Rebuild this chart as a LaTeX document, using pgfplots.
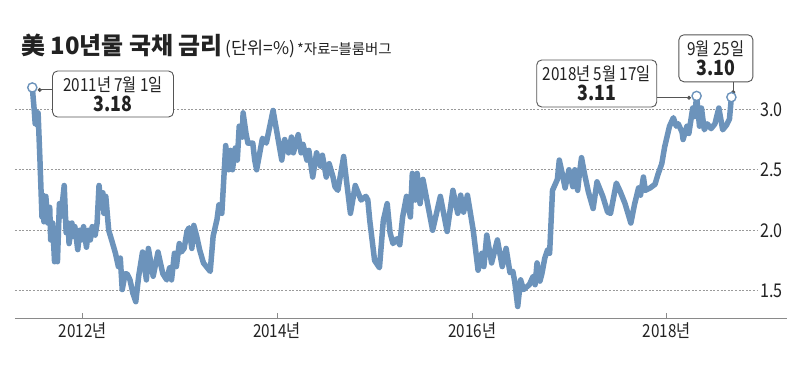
\documentclass[border=0pt]{standalone}
\usepackage{pgfplots}
\pgfplotsset{compat=1.18}
\usepackage{fontspec}
\setmainfont{Noto Sans CJK KR}
\newfontfamily\krn[FakeStretch=0.85]{Noto Sans CJK KR}
\usetikzlibrary{arrows.meta}
\definecolor{lineblue}{HTML}{6C93BB}
\definecolor{gridgray}{HTML}{9A9A9A}
\definecolor{axgray}{HTML}{8A8A8A}
\definecolor{boxgray}{HTML}{555555}
\definecolor{txt}{HTML}{222222}
\begin{document}
\begin{tikzpicture}
\begin{axis}[name=ax, scale only axis, width=772bp, height=288bp,
  xmin=2011.321, xmax=2019.305, ymin=1.275, ymax=3.655,
  axis x line=bottom, axis y line=right,
  x axis line style={-, draw=axgray, line width=0.8bp},
  y axis line style={draw=none},
  xtick={2012.02,2014.03,2016.05,2018.06},
  xticklabels={2012년,2014년,2016년,2018년},
  ytick={1.5,2,2.5,3}, yticklabels={1.5,2.0,2.5,3.0},
  ytick style={draw=none},
  xtick style={draw=axgray, line width=0.8bp},
  tick align=inside, major tick length=5bp,
  xticklabel style={font=\krn\fontsize{18}{18}\selectfont, text=txt, yshift=-1bp},
  yticklabel style={font=\krn\fontsize{19}{19}\selectfont, text=txt, anchor=east, xshift=-1bp},
  clip=false, grid=none]
\pgfplotsinvokeforeach{1.5,2,2.5,3}{
  \draw[gridgray, line width=0.7bp, dash pattern=on 2bp off 1.6bp] (axis cs:2011.321,#1) -- (axis cs:2019.0,#1);
}
\addplot[line width=5.5bp, color=lineblue, line join=round, line cap=round] table {
x y
2011.50 3.18
2011.52 2.99
2011.53 2.88
2011.54 2.98
2011.55 2.87
2011.56 2.97
2011.58 2.56
2011.60 2.11
2011.61 2.29
2011.62 2.07
2011.64 2.28
2011.66 2.06
2011.68 2.19
2011.69 1.92
2011.71 2.06
2011.73 1.74
2011.75 1.95
2011.76 1.74
2011.78 2.22
2011.79 2.11
2011.81 2.22
2011.83 2.37
2011.85 1.98
2011.87 2.06
2011.88 1.89
2011.91 2.06
2011.92 1.95
2011.94 2.03
2011.97 1.84
2011.99 2.00
2012.01 1.92
2012.03 2.03
2012.06 1.86
2012.08 2.00
2012.10 1.92
2012.12 2.03
2012.15 1.96
2012.17 2.06
2012.19 2.37
2012.21 2.22
2012.23 2.31
2012.24 2.14
2012.26 2.28
2012.29 2.00
2012.32 1.92
2012.36 1.81
2012.39 1.70
2012.41 1.77
2012.43 1.51
2012.46 1.64
2012.48 1.64
2012.51 1.59
2012.54 1.48
2012.57 1.41
2012.60 1.62
2012.64 1.82
2012.68 1.59
2012.70 1.85
2012.75 1.62
2012.80 1.82
2012.85 1.64
2012.89 1.59
2012.92 1.69
2012.94 1.59
2012.97 1.81
2012.99 1.70
2013.02 1.89
2013.04 1.82
2013.07 1.85
2013.10 1.99
2013.12 2.02
2013.15 1.85
2013.17 2.04
2013.20 1.95
2013.23 1.84
2013.27 1.73
2013.31 1.69
2013.34 1.66
2013.37 1.95
2013.41 2.09
2013.43 2.21
2013.46 2.14
2013.48 2.42
2013.50 2.70
2013.53 2.50
2013.55 2.66
2013.57 2.50
2013.60 2.68
2013.62 2.58
2013.64 2.86
2013.67 2.77
2013.68 2.97
2013.71 2.80
2013.73 2.72
2013.78 2.72
2013.80 2.58
2013.82 2.50
2013.88 2.76
2013.92 2.72
2013.99 2.99
2014.08 2.58
2014.11 2.75
2014.15 2.64
2014.18 2.77
2014.20 2.64
2014.25 2.79
2014.28 2.64
2014.30 2.71
2014.34 2.58
2014.36 2.66
2014.40 2.44
2014.44 2.64
2014.48 2.53
2014.50 2.62
2014.54 2.44
2014.57 2.55
2014.61 2.44
2014.63 2.36
2014.66 2.33
2014.72 2.61
2014.74 2.47
2014.79 2.14
2014.84 2.37
2014.90 2.25
2014.95 2.28
2014.97 2.25
2014.99 2.08
2015.04 1.75
2015.09 1.69
2015.13 2.08
2015.17 2.22
2015.20 1.98
2015.23 1.89
2015.27 1.93
2015.30 1.88
2015.33 2.11
2015.37 2.28
2015.41 2.11
2015.43 2.47
2015.46 2.25
2015.48 2.47
2015.51 2.22
2015.54 2.42
2015.64 2.00
2015.72 2.28
2015.79 1.99
2015.85 2.33
2015.90 2.14
2015.93 2.29
2015.96 2.15
2016.00 2.29
2016.06 2.00
2016.11 1.67
2016.15 1.81
2016.17 1.70
2016.20 1.96
2016.25 1.73
2016.31 1.92
2016.36 1.70
2016.40 1.85
2016.44 1.65
2016.47 1.66
2016.49 1.57
2016.52 1.37
2016.55 1.59
2016.58 1.51
2016.64 1.55
2016.68 1.62
2016.70 1.55
2016.72 1.73
2016.75 1.58
2016.77 1.64
2016.80 1.77
2016.83 1.84
2016.85 1.81
2016.88 2.33
2016.93 2.42
2016.95 2.58
2016.98 2.47
2017.01 2.35
2017.05 2.50
2017.09 2.36
2017.11 2.50
2017.14 2.33
2017.16 2.48
2017.18 2.60
2017.21 2.47
2017.25 2.32
2017.30 2.18
2017.34 2.40
2017.40 2.28
2017.45 2.15
2017.48 2.14
2017.54 2.39
2017.58 2.32
2017.63 2.22
2017.69 2.06
2017.73 2.22
2017.77 2.35
2017.79 2.29
2017.82 2.44
2017.84 2.33
2017.89 2.35
2017.94 2.38
2017.97 2.46
2018.01 2.55
2018.04 2.69
2018.09 2.86
2018.13 2.93
2018.16 2.86
2018.18 2.88
2018.22 2.81
2018.23 2.75
2018.27 2.86
2018.29 2.80
2018.33 3.01
2018.35 2.94
2018.37 3.11
2018.40 2.86
2018.42 3.01
2018.45 2.83
2018.48 2.88
2018.52 2.84
2018.56 2.88
2018.60 3.01
2018.64 2.83
2018.68 2.87
2018.71 2.92
2018.73 3.10
};
% connectors
\draw[boxgray, line width=0.8bp, -{Circle[length=4bp]}] (axis cs:2011.711,3.16) -- (axis cs:2011.556,3.16);
\draw[boxgray, line width=0.8bp, -{Circle[length=4bp]}] (axis cs:2017.957,3.095) -- (axis cs:2018.312,3.095);
\draw[boxgray, line width=0.8bp, -{Circle[length=4bp]}] (axis cs:2018.749,3.228) -- (axis cs:2018.749,3.125);
\addplot[only marks, mark=*, mark size=4.6bp, mark options={fill=white, draw=lineblue, line width=1.4bp}] coordinates {(2011.50,3.18) (2018.37,3.11) (2018.73,3.10)};
% boxes
\tikzset{callout/.style={draw=boxgray, line width=0.9bp, rounded corners=5bp, fill=white, inner sep=0pt, align=center, text=txt, font=\krn\fontsize{18}{20}\selectfont}}
\node[callout, minimum width=121bp, minimum height=46bp]
  at (axis cs:2012.335,3.126) {2011년 7월 1일\\{\fontsize{21}{20}\selectfont\bfseries 3.18}};
\node[callout, minimum width=120bp, minimum height=47bp]
  at (axis cs:2017.337,3.213) {2018년 5월 17일\\{\fontsize{21}{20}\selectfont\bfseries 3.11}};
\node[callout, minimum width=74bp, minimum height=47bp]
  at (axis cs:2018.570,3.421) {9월 25일\\{\fontsize{21}{20}\selectfont\bfseries 3.10}};
% title
\node[anchor=base west, inner sep=0pt, text=txt] at (axis cs:2011.383,3.449)
  {{\fontsize{24}{24}\selectfont\bfseries 美 10년물 국채 금리}\hspace{3bp}{\fontsize{17.5}{17.5}\selectfont (단위=\%)}\hspace{2bp}{\fontsize{14.5}{14.5}\selectfont *자료=블룸버그}};
\end{axis}
\pgfresetboundingbox
\path ([shift={(-15bp,-52bp)}]ax.south west) rectangle ([shift={(13bp,30bp)}]ax.north east);
\end{tikzpicture}
\end{document}
